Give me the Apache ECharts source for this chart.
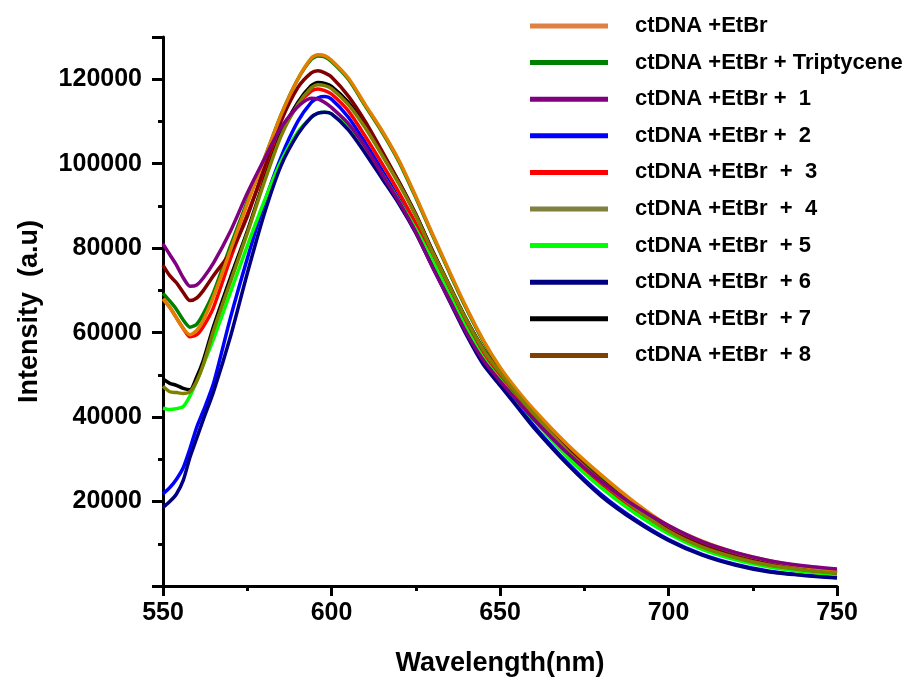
<!DOCTYPE html>
<html>
<head>
<meta charset="utf-8">
<script src="https://cdn.jsdelivr.net/npm/echarts@6/dist/echarts.min.js"></script>
<style>html,body{margin:0;padding:0;background:#fff;}#chart{width:906px;height:682px;}</style>
</head>
<body>
<div id="chart"></div>
<script>
// Wavelength grid (nm)
const wavelengths = [550,552,554,556,558,560,562,565,570,575,580,585,590,594,596,598,600,605,610,615,620,625,630,635,640,645,650,655,660,670,680,690,700,710,720,730,740,750];

const seriesNames = [
  "ctDNA +EtBr",
  "ctDNA +EtBr + Triptycene",
  "ctDNA +EtBr +  1",
  "ctDNA +EtBr +  2",
  "ctDNA +EtBr  +  3",
  "ctDNA +EtBr  +  4",
  "ctDNA +EtBr  + 5",
  "ctDNA +EtBr  + 6",
  "ctDNA +EtBr  + 7",
  "ctDNA +EtBr  + 8"
];

const etbr = [68000,66000,63500,61000,59500,60500,63000,68500,79500,90500,101000,111500,120000,125000,125800,125600,124500,120300,114000,107800,100800,92300,83300,74500,66000,58300,51800,46500,41800,33500,26300,19800,14300,10600,7900,6000,4600,3600];
const triptycene = [69300,67500,65500,63000,61300,62000,64500,69500,80500,91000,101000,111500,120000,124700,125500,125300,124200,120000,113700,107500,100500,92000,83000,74200,65700,58000,51500,46200,41500,33200,26000,19600,14100,10400,7700,5800,4500,3500];
const comp1 = [81000,78500,76000,73000,71000,71300,73000,76500,84000,93000,101000,108500,113500,115500,115300,114500,113300,109500,104000,97500,91000,83800,75500,67800,60000,53500,48500,44000,39500,31500,24800,19000,14300,10500,7900,6000,4800,4000];
const comp2 = [21800,23300,25300,28000,32500,37600,41500,48000,63500,77500,90500,101500,110000,114500,115600,115900,115300,111000,105000,98500,91700,84300,76000,68000,60000,53000,48000,43000,38000,29200,21700,15800,11000,7500,5100,3500,2600,2000];
const comp3 = [68000,66000,63500,61000,59000,59500,61500,66000,77500,88000,98000,107500,114000,117200,117700,117300,116500,112500,106500,100000,93200,85800,77500,69500,61500,54500,49300,44500,39800,31200,24000,18000,13000,9300,6700,5000,3800,3000];
const comp4 = [47300,46000,45800,45600,46000,48500,52500,60500,72000,83500,95500,106500,114000,118000,118700,118500,117800,114000,108500,102000,95200,87700,79000,71000,63000,56000,50500,45500,40800,32000,24800,18500,13000,9200,6700,4900,3800,3000];
const comp5 = [42100,41800,42000,42500,45000,48500,52500,58500,69500,80500,91000,100500,107500,111000,112000,112200,111800,108500,103500,97500,91200,84500,77000,69000,61000,54000,48800,44000,39300,30500,23300,17300,12400,8700,6200,4500,3400,2700];
const comp6 = [18600,20000,21800,25000,30500,35000,39500,46000,59000,74000,88000,99500,107000,111000,112000,112200,111800,108000,102500,96500,90500,83600,75500,67500,59500,52500,47500,42500,37500,28800,21300,15500,10800,7300,4900,3300,2500,1900];
const comp7 = [49000,48000,47500,46800,46500,49500,53500,61500,73000,84000,96000,107000,114500,118500,119200,119000,118300,114500,109000,102500,95700,88000,79300,71200,63200,56200,50700,45700,41000,32200,25000,18700,13200,9400,6800,5000,3900,3100];
const comp8 = [76000,73500,71800,69500,67600,68200,70000,73500,79000,87500,99000,110000,118000,121500,122000,121500,120500,116000,110000,103000,95700,88000,79300,71000,63000,56000,50500,45600,41000,32300,25000,18800,13500,9600,7000,5200,4000,3200];

const allValues = [etbr, triptycene, comp1, comp2, comp3, comp4, comp5, comp6, comp7, comp8];
const lineColors = ["#E08000","#008000","#800080","#0000FF","#FF0000","#808000","#00FF00","#000080","#000000","#800000"];
const legendColors = ["#E08040","#008000","#800080","#0000FF","#FF0000","#808040","#00FF00","#000080","#000000","#804000"];
const zOrder = [4,3,5,3,3,4,3,4,3,3];

const xTicks = { min: 550, max: 750, interval: 50 };
const yTicks = { min: 0, max: 130000, interval: 20000 };

const FONT = "'Liberation Sans', Arial, sans-serif";

const series = allValues.map((vals, i) => ({
  name: seriesNames[i],
  type: 'line',
  data: wavelengths.map((w, j) => [w, vals[j]]),
  showSymbol: false,
  symbol: 'none',
  smooth: 0.25,
  z: zOrder[i],
  lineStyle: { width: 3.5, color: lineColors[i] },
  itemStyle: { color: lineColors[i] }
}));

const chart = echarts.init(document.getElementById('chart'), null, { renderer: 'canvas' });
chart.setOption({
  animation: false,
  backgroundColor: '#ffffff',
  grid: { left: 163, right: 69, top: 37, bottom: 91, containLabel: false },
  legend: {
    orient: 'vertical',
    left: 525,
    top: 10,
    icon: 'rect',
    itemWidth: 78,
    itemHeight: 5,
    itemGap: 14.6,
    selectedMode: false,
    data: seriesNames.map((n, i) => ({ name: n, itemStyle: { color: legendColors[i] } })),
    textStyle: { color: '#000', fontFamily: FONT, fontWeight: 'bold', fontSize: 22, lineHeight: 22, padding: [0, 0, 0, 22] }
  },
  xAxis: {
    type: 'value',
    min: xTicks.min, max: xTicks.max, interval: xTicks.interval,
    name: 'Wavelength(nm)',
    nameLocation: 'middle',
    nameGap: 64,
    nameTextStyle: { color: '#000', fontFamily: FONT, fontWeight: 'bold', fontSize: 27 },
    axisLine: { show: true, onZero: false, lineStyle: { color: '#000', width: 3 } },
    axisTick: { show: true, inside: false, length: 10, lineStyle: { color: '#000', width: 3 } },
    minorTick: { show: true, splitNumber: 2, length: 5, lineStyle: { color: '#000', width: 3 } },
    splitLine: { show: false },
    axisLabel: { color: '#000', fontFamily: FONT, fontWeight: 'bold', fontSize: 25, margin: 15 }
  },
  yAxis: {
    type: 'value',
    min: yTicks.min, max: yTicks.max, interval: yTicks.interval,
    name: 'Intensity  (a.u)',
    nameLocation: 'middle',
    nameGap: 120,
    nameRotate: 90,
    nameTextStyle: { color: '#000', fontFamily: FONT, fontWeight: 'bold', fontSize: 27 },
    axisLine: { show: true, onZero: false, lineStyle: { color: '#000', width: 3 } },
    axisTick: { show: true, inside: false, length: 11, lineStyle: { color: '#000', width: 3 } },
    minorTick: { show: true, splitNumber: 2, length: 5, lineStyle: { color: '#000', width: 3 } },
    splitLine: { show: false },
    axisLabel: {
      color: '#000', fontFamily: FONT, fontWeight: 'bold', fontSize: 25, margin: 21,
      formatter: v => (v === 0 || v > 120000) ? '' : String(v)
    }
  },
  series: series
});
</script>
</body>
</html>
